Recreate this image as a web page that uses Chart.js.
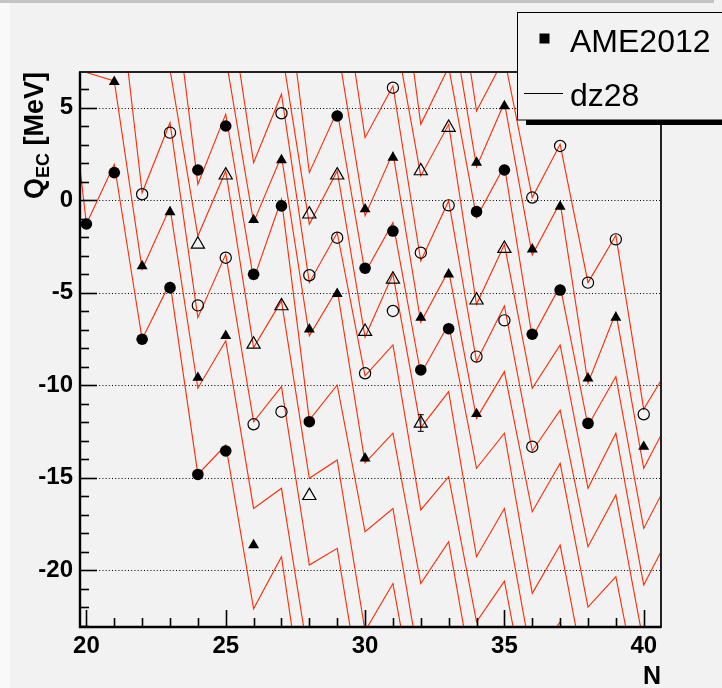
<!DOCTYPE html>
<html>
<head>
<meta charset="utf-8">
<script src="https://cdn.jsdelivr.net/npm/chart.js@4.4.0/dist/chart.umd.min.js"></script>
<style>
  html, body { margin: 0; padding: 0; background: #f2f2f2; }
</style>
</head>
<body>
<canvas id="chart" width="722" height="688"></canvas>
<script>
// Axis ticks
const xTicks = [20, 25, 30, 35, 40];
const yTicks = [-20, -15, -10, -5, 0, 5];

// AME2012 points, one pair of arrays per marker style
const fcN = [20, 21, 22, 23, 24, 25, 24, 25, 26, 27, 28, 29, 30, 31, 32, 33, 34, 35, 36, 37, 38];
const fcQ = [-1.29, 1.49, -7.52, -4.73, -14.83, -13.56, 1.63, 4.01, -4.01, -0.31, -11.98,
             4.55, -3.68, -1.67, -9.18, -6.95, -0.62, 1.63, -7.25, -4.86, -12.07];
const ftN = [21, 22, 23, 24, 25, 26, 26, 27, 28, 29, 30, 30, 31, 32, 33, 34, 34, 35, 36, 37, 38, 39, 40];
const ftQ = [6.4, -3.56, -0.64, -9.6, -7.34, -18.65, -1.07, 2.17, -6.98, -5.06, -13.96,
             -0.49, 2.3, -6.35, -4.01, -11.56, 2.03, 5.09, -2.66, -0.35, -9.63, -6.35, -13.33];
const ocN = [22, 23, 24, 25, 26, 27, 27, 28, 29, 30, 31, 31, 32, 33, 34, 35, 36, 36, 37, 38, 39, 40];
const ocQ = [0.32, 3.65, -5.69, -3.11, -12.12, -11.44, 4.7, -4.06, -2.03, -9.36, -5.99,
             6.08, -2.84, -0.28, -8.46, -6.5, -13.33, 0.14, 2.93, -4.46, -2.12, -11.58];
const otN = [24, 25, 26, 27, 28, 28, 29, 30, 31, 32, 32, 33, 34, 35];
const otQ = [-2.39, 1.35, -7.8, -5.72, -15.98, -0.76, 1.35, -7.11, -4.28, -12.07, 1.58, 3.92, -5.41, -2.62];

// dz28 chains: first N of each chain, then Q at N, N+1, ...
const chainStart = [19, 19, 21, 23, 23, 25, 25, 27, 27, 29, 29, 31, 31, 33, 33];
const dz01 = [11.8, -1.29, 1.94, -7.52, -4.46, -14.83, -13.24, -22.1, -19.28, -29.5];
const dz02 = [6.98, 6.9, 6.45, -3.74, -0.4, -10.17, -7.6, -16.67, -15.58, -25];
const dz03 = [13.5, 0.4, 4.19, -6.35, -2.93, -11.98, -10.08, -19.73, -18.83, -28];
const dz04 = [7.05, -1.94, 1.58, -7.97, -5.45, -15.04, -14.05, -23.3, -20.73, -29];
const dz05 = [12.9, 0.86, 4.65, -4.28, 0.05, -11.89, -9.99, -17.93, -16.67, -25.5];
const dz06 = [7.7, -1.2, 2.39, -7.34, -4.82, -14.2, -12.6, -20.73, -18.47, -27];
const dz07 = [12.0, 2.03, 5.73, -4.46, -1.76, -9.5, -7.83, -16.75, -14.95, -22.8, -20.6, -28.5];
const dz08 = [8.2, -1.3, 1.58, -7.4, -4.0, -12.3, -10.35, -19.28, -16.67, -25.0, -22.8, -30];
const dz09 = [13.5, 1.49, 4.82, -3.92, -1.22, -9.4, -6.7, -14.5, -12.6, -21.26, -18.65, -26.5];
const dz10 = [8.4, -0.85, 2.57, -6.6, -3.8, -11.8, -9.27, -16.85, -14.23, -22.0, -20.36, -28];
const dz11 = [13.3, 3.38, 6.18, -3.29, -0.04, -8.73, -5.72, -13.56, -11.35, -18.74, -15.94, -24.0];
const dz12 = [9.7, 1.31, 4.1, -5.63, -2.4, -10.17, -7.83, -15.58, -12.6, -20.81, -17.9];
const dz13 = [15.4, 4.1, 7.2, -0.94, 1.85, -7.43, -4.64, -12.2, -9.54, -17.75, -14.85];
const dz14 = [10.8, 1.8, 5.27, -2.97, -0.13, -9.9, -6.08, -14.5, -11.6];
const dz15 = [14.8, 4.82, 7.7, 0.14, 3.02, -4.46, -1.9, -11.3, -8.8];
const dzChains = [dz01, dz02, dz03, dz04, dz05, dz06, dz07, dz08, dz09, dz10, dz11, dz12, dz13, dz14, dz15];

const FONT = '"Liberation Sans", Arial, Helvetica, sans-serif';
const RED = '#ff2a00';

function pairs(ns, qs) {
  return ns.map((n, i) => ({ x: n, y: qs[i] }));
}

const datasets = [];

// theory lines first (drawn behind the markers)
dzChains.forEach((chain, k) => {
  datasets.push({
    data: chain.map((q, i) => ({ x: chainStart[k] + i, y: q })),
    showLine: true,
    borderColor: RED,
    borderWidth: 1.1,
    pointRadius: 0,
    tension: 0,
    order: 10
  });
});

// AME2012 markers
datasets.push({ data: pairs(fcN, fcQ), pointStyle: 'circle', pointRadius: 5.8,
  backgroundColor: '#000', borderColor: '#000', borderWidth: 0, order: 0 });
datasets.push({ data: pairs(ftN, ftQ), pointStyle: 'triangle', pointRadius: 6.3,
  backgroundColor: '#000', borderColor: '#000', borderWidth: 0, order: 0 });
datasets.push({ data: pairs(ocN, ocQ), pointStyle: 'circle', pointRadius: 5.6,
  backgroundColor: 'rgba(0,0,0,0)', borderColor: '#000', borderWidth: 1.2, order: 0 });
datasets.push({ data: pairs(otN, otQ), pointStyle: 'triangle', pointRadius: 7.6,
  backgroundColor: 'rgba(0,0,0,0)', borderColor: '#000', borderWidth: 1.2, order: 0 });

// ROOT-style canvas, grid, frame, inward ticks, titles and legend
const rootStyle = {
  id: 'rootStyle',
  beforeDraw(chart) {
    const ctx = chart.ctx;
    ctx.save();
    ctx.fillStyle = '#f2f2f2';
    ctx.fillRect(0, 0, chart.width, chart.height);
    ctx.fillStyle = '#f9f9f9';
    ctx.fillRect(0, 0, 10, chart.height);
    ctx.fillStyle = '#c4c4c4';
    ctx.fillRect(0, 0, 714, 3);
    ctx.restore();
  },
  beforeDatasetsDraw(chart) {
    const { ctx, chartArea: a, scales: { y } } = chart;
    ctx.save();
    ctx.strokeStyle = '#000';
    ctx.lineWidth = 1;
    ctx.setLineDash([1, 2.2]);
    yTicks.forEach(v => {
      const py = Math.round(y.getPixelForValue(v)) + 0.5;
      ctx.beginPath();
      ctx.moveTo(a.left, py);
      ctx.lineTo(a.right, py);
      ctx.stroke();
    });
    ctx.restore();
  },
  afterDatasetsDraw(chart) {
    const { ctx, chartArea: a, scales: { x, y } } = chart;
    ctx.save();

    // frame
    ctx.strokeStyle = '#222';
    ctx.lineWidth = 2;
    ctx.strokeRect(a.left, a.top, a.right - a.left, a.bottom - a.top);
    ctx.strokeStyle = '#000';
    ctx.lineWidth = 2.4;
    ctx.beginPath();
    ctx.moveTo(a.left, a.top);
    ctx.lineTo(a.left, a.bottom);
    ctx.lineTo(a.right, a.bottom);
    ctx.stroke();

    // small error bar on the N=32 open triangle
    const ex = x.getPixelForValue(32);
    ctx.lineWidth = 1;
    ctx.beginPath();
    ctx.moveTo(ex, y.getPixelForValue(-11.6));
    ctx.lineTo(ex, y.getPixelForValue(-12.5));
    ctx.moveTo(ex - 3, y.getPixelForValue(-11.6));
    ctx.lineTo(ex + 3, y.getPixelForValue(-11.6));
    ctx.moveTo(ex - 3, y.getPixelForValue(-12.5));
    ctx.lineTo(ex + 3, y.getPixelForValue(-12.5));
    ctx.stroke();

    // inward ticks, major every 5, minor every 1
    ctx.lineWidth = 1.6;
    for (let v = -23; v <= 6; v++) {
      const py = Math.round(y.getPixelForValue(v)) + 0.5;
      const len = (v % 5 === 0) ? 17 : 9;
      ctx.beginPath();
      ctx.moveTo(a.left, py);
      ctx.lineTo(a.left + len, py);
      ctx.stroke();
    }
    for (let v = 20; v <= 40; v++) {
      const px = Math.round(x.getPixelForValue(v)) + 0.5;
      const len = (v % 5 === 0) ? 17 : 9;
      ctx.beginPath();
      ctx.moveTo(px, a.bottom);
      ctx.lineTo(px, a.bottom - len);
      ctx.stroke();
    }

    // axis titles
    ctx.fillStyle = '#000';
    ctx.textBaseline = 'alphabetic';
    ctx.textAlign = 'right';
    ctx.font = 'bold 25px ' + FONT;
    ctx.fillText('N', a.right, 684);

    // y title, right-aligned to the top of the axis
    ctx.font = 'bold 27px ' + FONT;
    const wQ = ctx.measureText('Q').width;
    const wM = ctx.measureText(' [MeV]').width;
    ctx.font = 'bold 18px ' + FONT;
    const wE = ctx.measureText('EC').width;
    ctx.translate(43, a.top + wQ + wE + wM);
    ctx.rotate(-Math.PI / 2);
    ctx.textAlign = 'left';
    ctx.font = 'bold 27px ' + FONT;
    ctx.fillText('Q', 0, 0);
    ctx.font = 'bold 18px ' + FONT;
    ctx.fillText('EC', wQ, 6);
    ctx.font = 'bold 27px ' + FONT;
    ctx.fillText(' [MeV]', wQ + wE, 0);
    ctx.restore();

    // legend box with shadow, running off the right edge
    ctx.save();
    ctx.fillStyle = '#000';
    ctx.fillRect(526, 120, 200, 5);
    ctx.fillStyle = '#f2f2f2';
    ctx.fillRect(518, 13, 210, 107);
    ctx.strokeStyle = '#000';
    ctx.lineWidth = 1;
    ctx.strokeRect(517.5, 12.5, 230, 107.5);
    ctx.fillStyle = '#000';
    ctx.fillRect(539.5, 33.5, 10, 10);
    ctx.beginPath();
    ctx.moveTo(524, 93.5);
    ctx.lineTo(563, 93.5);
    ctx.stroke();
    ctx.font = '32px ' + FONT;
    ctx.textAlign = 'left';
    ctx.textBaseline = 'alphabetic';
    ctx.fillText('AME2012', 570, 52);
    ctx.fillText('dz28', 570, 106);
    ctx.restore();
  }
};

new Chart(document.getElementById('chart'), {
  type: 'scatter',
  data: { datasets },
  options: {
    responsive: false,
    animation: false,
    events: [],
    layout: { padding: { top: 72, right: 61, left: 0, bottom: 0 } },
    plugins: { legend: { display: false }, tooltip: { enabled: false } },
    scales: {
      x: {
        type: 'linear',
        min: 19.77,
        max: 40.62,
        afterBuildTicks: s => { s.ticks = xTicks.map(v => ({ value: v })); },
        afterFit: s => { s.height = 61; },
        grid: { display: false, drawTicks: false },
        border: { display: false },
        ticks: {
          padding: 5,
          color: '#000',
          maxRotation: 0,
          autoSkip: false,
          font: { family: FONT, weight: 'bold', size: 24 }
        }
      },
      y: {
        type: 'linear',
        min: -23.08,
        max: 6.93,
        afterBuildTicks: s => { s.ticks = yTicks.map(v => ({ value: v })); },
        afterFit: s => { s.width = 80; },
        grid: { display: false, drawTicks: false },
        border: { display: false },
        ticks: {
          padding: 7,
          color: '#000',
          autoSkip: false,
          font: { family: FONT, weight: 'bold', size: 24 }
        }
      }
    }
  },
  plugins: [rootStyle]
});
</script>
</body>
</html>
